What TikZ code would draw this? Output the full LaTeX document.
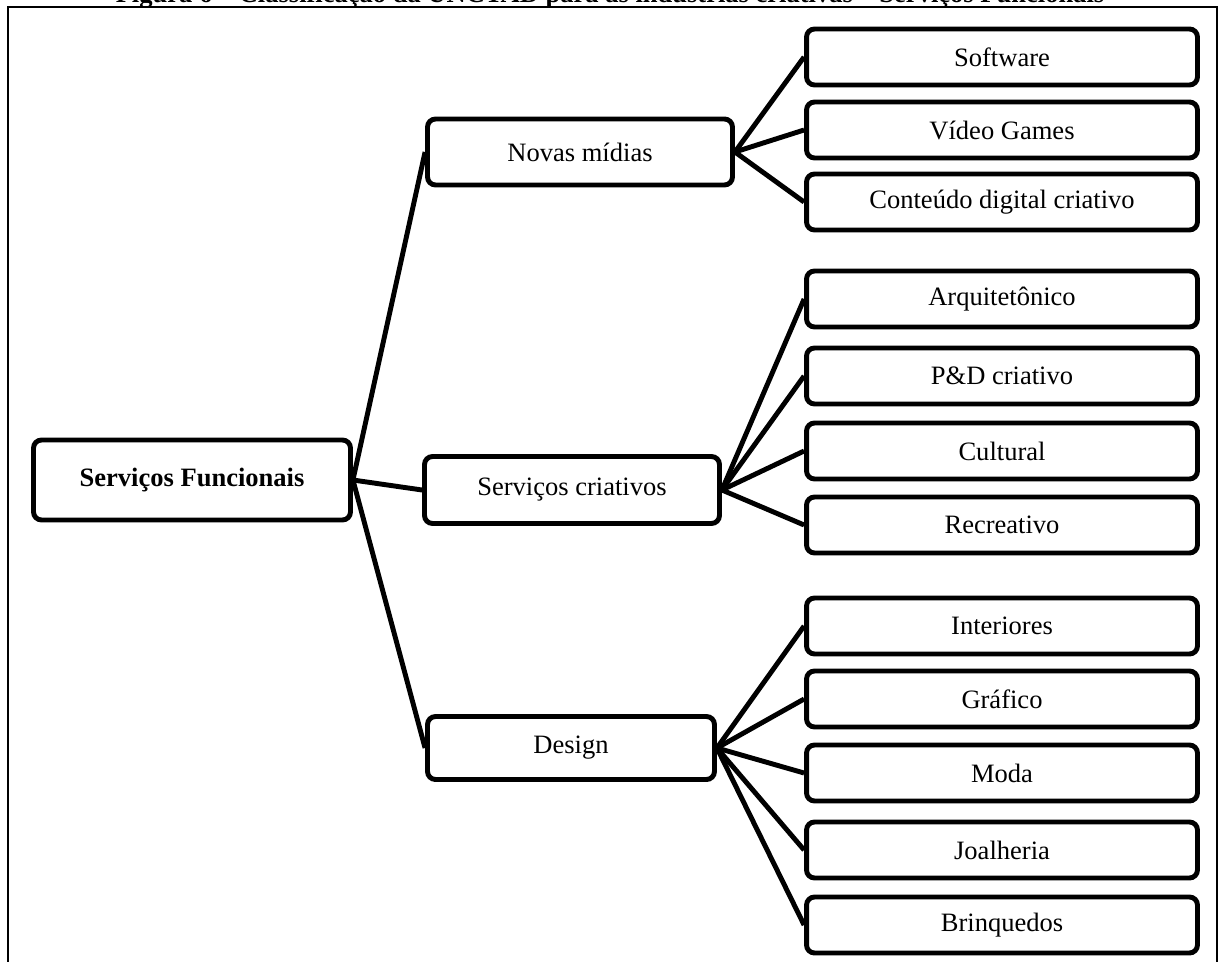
\documentclass[tikz,border=0pt]{standalone}
\usepackage{fontspec}
\setmainfont{Liberation Serif}
\usepackage{tikz}
\usetikzlibrary{positioning}

\begin{document}
\begin{tikzpicture}[x=0.02cm,y=-0.02cm,font=\fontsize{15.1}{18}\selectfont,
box/.style={draw,line width=2.8pt,rounded corners=0.16cm,align=center,minimum height=1.32cm},
leaf/.style={box,minimum width=7.82cm,minimum height=1.12cm},
con/.style={line width=2.8pt}]
\useasboundingbox (0,0) rectangle (1219,962);
\clip (0,0) rectangle (1219,962);
% moldura e titulo
\node[font=\fontsize{15.1}{18}\selectfont\bfseries,anchor=base,inner sep=0pt] (titulo) at (610,2.5) {Figura 6 -- Classificação da UNCTAD para as indústrias criativas -- Serviços Funcionais};
\draw[line width=1.2pt] (8,990) |- (1217,7) -- (1217,990);
% raiz
\node[box,font=\fontsize{15.1}{18}\selectfont\bfseries,minimum width=6.34cm,minimum height=1.6cm] (sf) at (192,480) {Serviços Funcionais};
% nivel 2
\node[box,minimum width=6.1cm] (nm) at (580,152) {Novas mídias};
\node[box,minimum width=5.9cm,minimum height=1.34cm] (sc) at (572,490) {Serviços criativos};
\node[box,minimum width=5.74cm,minimum height=1.26cm] (des) at (571,748) {Design};
% nivel 3
\node[leaf] (soft) at (1002,57) {Software};
\node[leaf] (games) at (1002,130) {Vídeo Games};
\node[leaf] (cdc) at (1002,202) {Conteúdo digital criativo};
\node[leaf] (arq) at (1002,299) {Arquitetônico};
\node[leaf] (pd) at (1002,376) {P\&D criativo};
\node[leaf] (cult) at (1002,451) {Cultural};
\node[leaf] (recr) at (1002,525) {Recreativo};
\node[leaf] (inter) at (1002,626) {Interiores};
\node[leaf] (graf) at (1002,699) {Gráfico};
\node[leaf] (moda) at (1002,773) {Moda};
\node[leaf] (joal) at (1002,850) {Joalheria};
\node[leaf] (brinq) at (1002,925) {Brinquedos};
% ligacoes
\draw[con] (sf.east)--(nm.west);\draw[con] (sf.east)--(sc.west);\draw[con] (sf.east)--(des.west);
\draw[con] (nm.east)--(soft.west);\draw[con] (nm.east)--(games.west);\draw[con] (nm.east)--(cdc.west);
\draw[con] (sc.east)--(arq.west);\draw[con] (sc.east)--(pd.west);\draw[con] (sc.east)--(cult.west);\draw[con] (sc.east)--(recr.west);
\draw[con] (des.east)--(inter.west);\draw[con] (des.east)--(graf.west);\draw[con] (des.east)--(moda.west);
\draw[con] (des.east)--(joal.west);\draw[con] (des.east)--(brinq.west);
\end{tikzpicture}
\end{document}
